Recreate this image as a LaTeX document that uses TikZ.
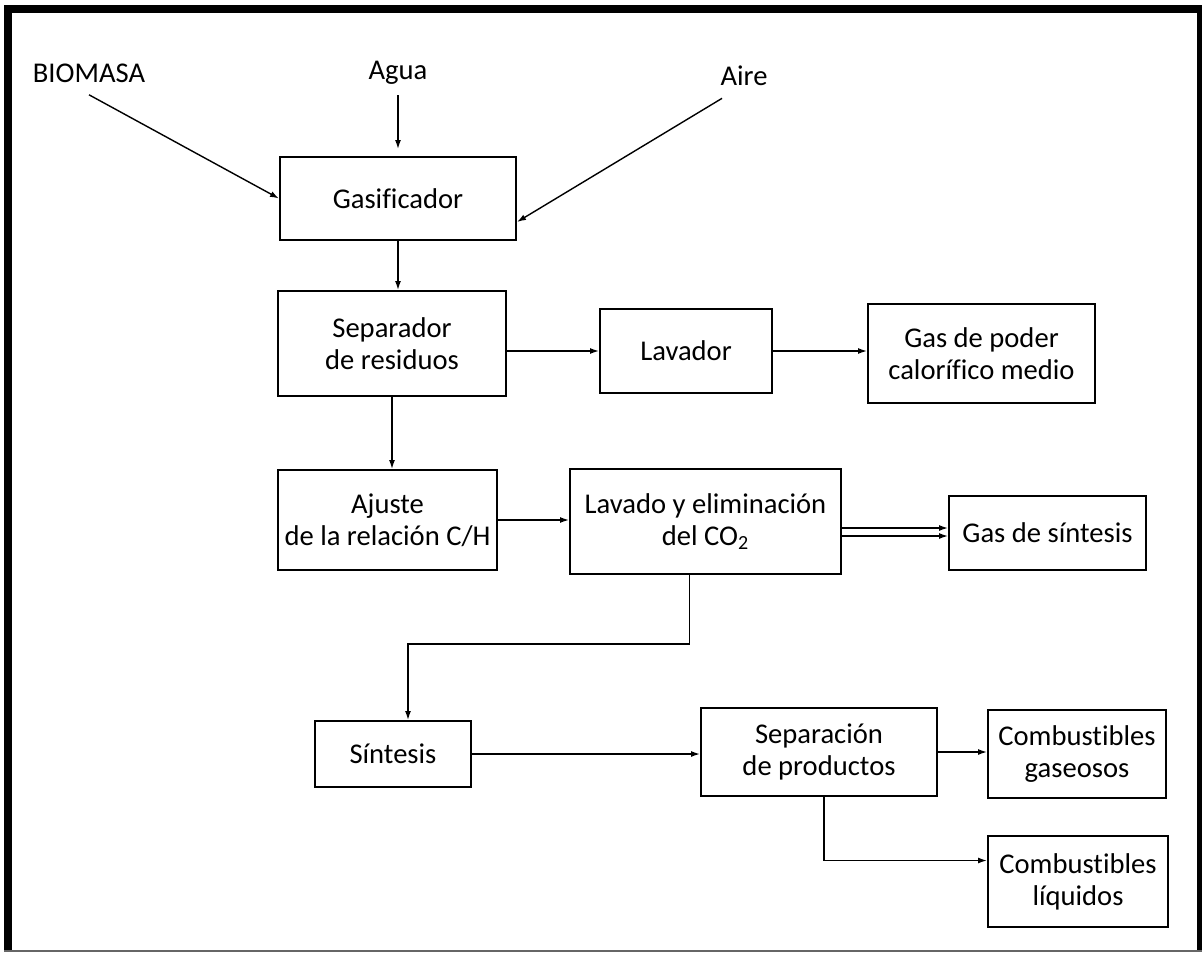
\documentclass[tikz,border=0pt]{standalone}
\usepackage{fontspec}
\setmainfont{Carlito}[Ligatures=NoCommon]
\usepackage{tikz}
\usetikzlibrary{arrows.meta,positioning}
\tikzset{
  proc/.style={
    rectangle,
    draw=black,
    line width=1pt,
    align=center,
    inner sep=2pt,
    font=\fontsize{14.3}{16}\selectfont
  },
  feed/.style={
    inner sep=1pt,
    font=\fontsize{14.3}{16}\selectfont
  },
  arrow/.style={-{Latex[length=4.5pt,width=3pt]}, line width=0.7pt}
}

\begin{document}
\begin{tikzpicture}[x=0.5pt,y=-0.5pt]
  \useasboundingbox (0,0) rectangle (1202,953);
  \fill[black] (4,5) rectangle (12,951);
  \fill[black] (4,5) rectangle (1202,13);
  \fill[black] (1197,5) rectangle (1202,951);
  \fill[black!60] (4,950) rectangle (1202,952);

  \node[feed] (biomasa) at (89,73) {BIOMASA};
  \node[feed] (agua) at (398,73) {Agua};
  \node[feed] (aire) at (744,76) {Aire};
  \node[proc, minimum width=118pt, minimum height=41.5pt] (gasif) at (398,198.5) {Gasificador};
  \node[proc, minimum width=114pt, minimum height=52.5pt] (separ) at (392,343.5) {Separador\\de residuos};
  \node[proc, minimum width=86pt, minimum height=42pt] (lavador) at (686,351) {Lavador};
  \node[proc, minimum width=113.5pt, minimum height=49.5pt] (gaspoder) at (981.5,353.5) {Gas de poder\\calorífico medio};
  \node[proc, minimum width=109.5pt, minimum height=50pt] (ajuste) at (387.5,520) {Ajuste\\de la relación C/H};
  \node[proc, minimum width=135.5pt, minimum height=52.5pt] (lavado) at (705.5,521.5) {Lavado y eliminación\\del CO\textsubscript{2}};
  \node[proc, minimum width=98.5pt, minimum height=37pt] (gassint) at (1047.5,533) {Gas de síntesis};
  \node[proc, minimum width=78pt, minimum height=33pt] (sintesis) at (393,754) {Síntesis};
  \node[proc, minimum width=118pt, minimum height=44pt] (separacion) at (819,752) {Separación\\de productos};
  \node[proc, minimum width=89pt, minimum height=44pt] (combgas) at (1077,754) {Combustibles\\gaseosos};
  \node[proc, minimum width=90pt, minimum height=45.5pt] (combliq) at (1078,881.5) {Combustibles\\líquidos};

  \draw[arrow] ([yshift=-5pt]biomasa.south) -- (gasif.west);
  \draw[arrow] ([yshift=-4pt]agua.south) -- ([yshift=3.5pt]gasif.north);
  \draw[arrow] ([xshift=-11pt,yshift=-5pt]aire.south) -- ([yshift=-11.75pt]gasif.east);
  \draw[arrow] (gasif.south) -- (gasif.south |- separ.north);
  \draw[arrow] (lavador.west -| separ.east) -- (lavador.west);
  \draw[arrow] (lavador.east) -- (lavador.east -| gaspoder.west);
  \draw[arrow] (separ.south) -- (separ.south |- ajuste.north);
  \draw[arrow] (ajuste.east) -- (ajuste.east -| lavado.west);
  \draw[arrow] ([yshift=2.5pt]gassint.west -| lavado.east) -- ([yshift=2.5pt]gassint.west);
  \draw[arrow] ([yshift=-1.5pt]gassint.west -| lavado.east) -- ([yshift=-1.5pt]gassint.west);
  \draw[arrow] ([xshift=-8pt]lavado.south) -- ++(0,69) -| ([xshift=7.5pt]sintesis.north);
  \draw[arrow] (sintesis.east) -- (sintesis.east -| separacion.west);
  \draw[arrow] (separacion.east) -- (separacion.east -| combgas.west);
  \draw[arrow] ([xshift=2.5pt]separacion.south) |- ([yshift=10.5pt]combliq.west);
\end{tikzpicture}
\end{document}
